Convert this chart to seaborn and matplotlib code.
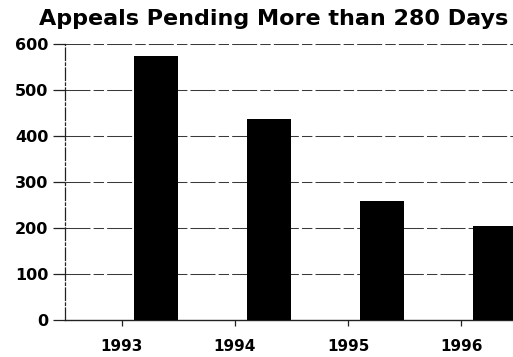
import matplotlib
matplotlib.use("Agg")
import matplotlib.pyplot as plt
import seaborn as sns
import pandas as pd

years = ["1993", "1994", "1995", "1996"]
pending = [573, 438, 259, 205]
y_ticks = [0, 100, 200, 300, 400, 500, 600]
title = "Appeals Pending More than 280 Days"

sns.set_theme(style="white")
plt.rcParams["font.family"] = ["DejaVu Sans"]
plt.rcParams["font.weight"] = "bold"
plt.rcParams["text.color"] = "black"
plt.rcParams["xtick.color"] = "black"
plt.rcParams["ytick.color"] = "black"

df = pd.DataFrame({"year": years, "count": pending, "series": "Pending"})

fig = plt.figure(figsize=(5.13, 3.57), dpi=100)
ax = fig.add_axes([65 / 513, 1 - 320 / 357, 453 / 513, 276 / 357])

# The chart keeps an empty slot to the left of each bar in its category
sns.barplot(data=df, x="year", y="count", hue="series",
            hue_order=["Blank", "Pending"], palette=["white", "black"],
            width=1.2, gap=0.35, dodge=True, legend=False,
            saturation=1, edgecolor="black", linewidth=0, ax=ax, zorder=3)

ax.set_xlim(-0.5, 3.5)
ax.set_ylim(0, 600)
ax.set_yticks(y_ticks)
ax.set_xlabel("")
ax.set_ylabel("")

for y in y_ticks[1:]:
    ax.axhline(y, color="#3a3a3a", lw=0.75, ls=(0, (24, 3, 10, 3)), zorder=1)

for side in ("top", "right"):
    ax.spines[side].set_visible(False)
ax.spines["left"].set_color("#222222")
ax.spines["left"].set_linewidth(0.9)
ax.spines["left"].set_linestyle((0, (10, 2, 2, 2)))
ax.spines["bottom"].set_color("#222222")
ax.spines["bottom"].set_linewidth(1.0)

ax.tick_params(axis="y", which="major", direction="out", length=8.5, width=0.9,
               pad=3.5, labelsize=11.5, left=True, color="#222222",
               labelcolor="black")
ax.tick_params(axis="x", which="major", direction="out", length=4.5, width=0.9,
               pad=9, labelsize=11, bottom=True, color="#222222",
               labelcolor="black")
for lbl in ax.get_xticklabels() + ax.get_yticklabels():
    lbl.set_fontweight("bold")

fig.text(274 / 513, 1 - 19 / 357, title, ha="center", va="center",
         fontsize=16, fontweight="bold", color="black")

fig.savefig("out.png", dpi=100)
